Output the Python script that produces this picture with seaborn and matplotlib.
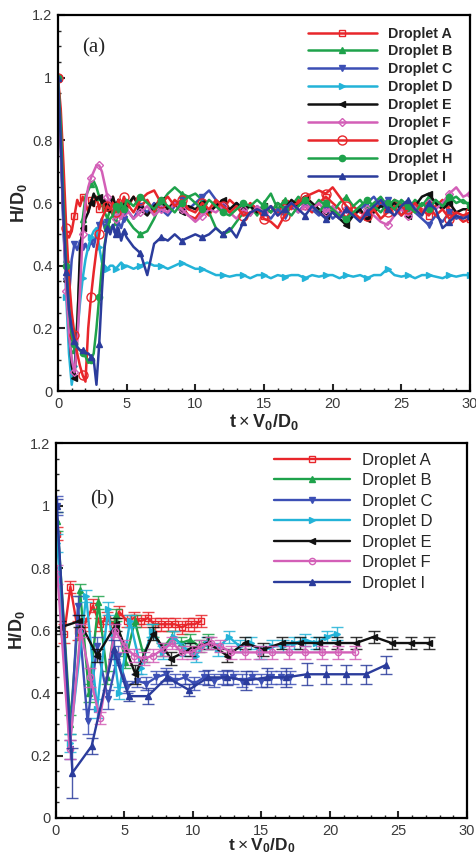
import numpy as np
import matplotlib
matplotlib.use("Agg")
import matplotlib.pyplot as plt
import seaborn as sns
from matplotlib.ticker import MultipleLocator

# ---------------- data: panel (a) ----------------
t_top = [0.0, 0.2, 0.4, 0.6, 0.8,
         1.0, 1.2, 1.4, 1.6, 1.8,
         2.0, 2.2, 2.4, 2.6, 2.8,
         3.0, 3.2, 3.4, 3.6, 3.8,
         4.0, 4.2, 4.4, 4.6, 4.8,
         5.0, 5.5, 6.0, 6.5, 7.0, 7.5, 8.0, 8.5, 9.0, 9.5,
         10.0, 10.5, 11.0, 11.5, 12.0, 12.5, 13.0, 13.5, 14.0, 14.5,
         15.0, 15.5, 16.0, 16.5, 17.0, 17.5, 18.0, 18.5, 19.0, 19.5,
         20.0, 20.5, 21.0, 21.5, 22.0, 22.5, 23.0, 23.5, 24.0, 24.5,
         25.0, 25.5, 26.0, 26.5, 27.0, 27.5, 28.0, 28.5, 29.0, 29.5,
         30.0]

top_A = [1.00, 0.82, 0.60, 0.50, 0.49,
         0.51, 0.56, 0.61, 0.59, 0.62,
         0.60, 0.57, 0.61, 0.59, 0.62,
         0.58, 0.61, 0.57, 0.60, 0.59,
         0.62, 0.58, 0.61, 0.56, 0.60,
         0.58, 0.62, 0.59, 0.61, 0.57, 0.60, 0.58, 0.61, 0.59, 0.56,
         0.55, 0.58, 0.56, 0.60, 0.58, 0.61, 0.59, 0.57, 0.60, 0.58,
         0.56, 0.59, 0.57, 0.60, 0.58, 0.61, 0.59, 0.57, 0.60, 0.62,
         0.60, 0.58, 0.55, 0.59, 0.57, 0.56, 0.58, 0.60, 0.58, 0.61,
         0.59, 0.57, 0.60, 0.58, 0.56, 0.59, 0.61, 0.58, 0.56, 0.54,
         0.55]
top_B = [1.00, 0.85, 0.62, 0.42, 0.27,
         0.17, 0.13, 0.22, 0.40, 0.55,
         0.62, 0.64, 0.66, 0.67, 0.65,
         0.62, 0.60, 0.57, 0.55, 0.58,
         0.56, 0.54, 0.57, 0.55, 0.58,
         0.55, 0.52, 0.50, 0.51, 0.55, 0.60, 0.63, 0.65, 0.63, 0.62,
         0.63, 0.61, 0.57, 0.52, 0.50, 0.51, 0.54, 0.57, 0.59, 0.56,
         0.60, 0.63, 0.58, 0.61, 0.59, 0.62, 0.60, 0.58, 0.61, 0.59,
         0.57, 0.60, 0.62, 0.59, 0.61, 0.58, 0.60, 0.62, 0.59, 0.61,
         0.60, 0.58, 0.61, 0.59, 0.62, 0.60, 0.58, 0.61, 0.62, 0.60,
         0.60]
top_C = [1.00, 0.78, 0.52, 0.35, 0.30,
         0.42, 0.47, 0.45, 0.48, 0.46,
         0.47, 0.45, 0.48, 0.46, 0.50,
         0.53, 0.55, 0.52, 0.54, 0.51,
         0.53, 0.50, 0.54, 0.52, 0.55,
         0.58, 0.55, 0.59, 0.57, 0.60, 0.58, 0.56, 0.59, 0.61, 0.58,
         0.60, 0.62, 0.64, 0.61, 0.59, 0.57, 0.60, 0.58, 0.56, 0.59,
         0.57, 0.55, 0.58, 0.56, 0.59, 0.57, 0.60, 0.58, 0.56, 0.58,
         0.55, 0.57, 0.54, 0.56, 0.58, 0.60, 0.62, 0.59, 0.61, 0.58,
         0.56, 0.59, 0.57, 0.55, 0.53, 0.56, 0.54, 0.57, 0.55, 0.56,
         0.56]
top_D = [1.00, 0.80, 0.52, 0.30, 0.12,
         0.02, 0.08, 0.18, 0.28, 0.36,
         0.42, 0.46, 0.49, 0.51, 0.52,
         0.46, 0.41, 0.40, 0.39, 0.40,
         0.40, 0.39, 0.40, 0.41, 0.40,
         0.40, 0.39, 0.40, 0.41, 0.40, 0.40, 0.39, 0.40, 0.41, 0.40,
         0.39, 0.39, 0.38, 0.37, 0.37, 0.365, 0.37, 0.37, 0.36, 0.37,
         0.37, 0.36, 0.37, 0.365, 0.37, 0.37, 0.36, 0.37, 0.365, 0.37,
         0.37, 0.36, 0.37, 0.365, 0.37, 0.36, 0.37, 0.37, 0.39, 0.37,
         0.365, 0.37, 0.36, 0.37, 0.37, 0.365, 0.36, 0.37, 0.365, 0.37,
         0.37]
top_E = [1.00, 0.80, 0.55, 0.35, 0.20,
         0.08, 0.04, 0.20, 0.45, 0.52,
         0.55, 0.57, 0.60, 0.63, 0.61,
         0.62, 0.60, 0.61, 0.58, 0.60,
         0.62, 0.59, 0.61, 0.58, 0.60,
         0.59, 0.62, 0.58, 0.56, 0.59, 0.61, 0.58, 0.60, 0.57, 0.59,
         0.58, 0.60, 0.57, 0.59, 0.61, 0.58, 0.60, 0.58, 0.59, 0.57,
         0.59, 0.57, 0.60, 0.58, 0.61, 0.59, 0.62, 0.60, 0.58, 0.56,
         0.57, 0.55, 0.53, 0.56, 0.58, 0.55, 0.57, 0.59, 0.58, 0.60,
         0.58, 0.56, 0.59, 0.62, 0.63, 0.60, 0.58, 0.60, 0.57, 0.58,
         0.58]
top_F = [1.00, 0.78, 0.52, 0.32, 0.18,
         0.10, 0.06, 0.15, 0.32, 0.50,
         0.60, 0.65, 0.68, 0.70, 0.72,
         0.72, 0.70, 0.66, 0.62, 0.60,
         0.58, 0.55, 0.57, 0.55, 0.57,
         0.58, 0.55, 0.57, 0.59, 0.56, 0.58, 0.57, 0.60, 0.58, 0.56,
         0.54, 0.56, 0.58, 0.57, 0.59, 0.57, 0.55, 0.58, 0.56, 0.59,
         0.57, 0.59, 0.56, 0.58, 0.60, 0.57, 0.59, 0.58, 0.60, 0.57,
         0.59, 0.56, 0.58, 0.57, 0.55, 0.58, 0.56, 0.54, 0.53, 0.56,
         0.58, 0.56, 0.59, 0.57, 0.60, 0.58, 0.60, 0.63, 0.65, 0.62,
         0.63]
top_G = [1.00, 0.90, 0.72, 0.52, 0.36,
         0.25, 0.18, 0.12, 0.08, 0.05,
         0.03, 0.20, 0.30, 0.38, 0.45,
         0.50, 0.55, 0.57, 0.59, 0.58,
         0.60, 0.57, 0.61, 0.59, 0.62,
         0.60, 0.57, 0.61, 0.63, 0.64, 0.60, 0.62, 0.59, 0.61, 0.58,
         0.57, 0.60, 0.58, 0.61, 0.59, 0.57, 0.59, 0.56, 0.57, 0.58,
         0.55, 0.54, 0.52, 0.56, 0.59, 0.60, 0.62, 0.63, 0.64, 0.63,
         0.65, 0.62, 0.59, 0.57, 0.55, 0.56, 0.58, 0.55, 0.57, 0.59,
         0.56, 0.58, 0.60, 0.57, 0.59, 0.56, 0.58, 0.55, 0.57, 0.56,
         0.57]
top_H = [1.00, 0.85, 0.60, 0.40, 0.26,
         0.18, 0.15, 0.14, 0.13, 0.12,
         0.11, 0.09, 0.10, 0.12, 0.20,
         0.30, 0.40, 0.47, 0.52, 0.55,
         0.56, 0.59, 0.57, 0.60, 0.58,
         0.61, 0.59, 0.62, 0.60, 0.58, 0.61, 0.59, 0.57, 0.60, 0.62,
         0.60, 0.58, 0.61, 0.59, 0.57, 0.56, 0.58, 0.60, 0.59, 0.61,
         0.59, 0.57, 0.60, 0.58, 0.56, 0.59, 0.61, 0.59, 0.57, 0.60,
         0.58, 0.56, 0.55, 0.57, 0.59, 0.61, 0.59, 0.57, 0.60, 0.58,
         0.61, 0.59, 0.57, 0.60, 0.58, 0.61, 0.59, 0.62, 0.60, 0.61,
         0.59]
top_I = [1.00, 0.80, 0.55, 0.38, 0.26,
         0.20, 0.16, 0.14, 0.13, 0.13,
         0.12, 0.12, 0.11, 0.10, 0.02,
         0.15, 0.32, 0.46, 0.52, 0.50,
         0.53, 0.50, 0.52, 0.48, 0.51,
         0.49, 0.46, 0.44, 0.37, 0.47, 0.49, 0.48, 0.50, 0.48, 0.49,
         0.50, 0.49, 0.50, 0.52, 0.50, 0.52, 0.49, 0.54, 0.57, 0.58,
         0.57, 0.59, 0.56, 0.58, 0.60, 0.58, 0.56, 0.59, 0.57, 0.55,
         0.57, 0.55, 0.58, 0.56, 0.54, 0.57, 0.59, 0.61, 0.58, 0.56,
         0.59, 0.61, 0.58, 0.56, 0.60, 0.58, 0.52, 0.54, 0.56, 0.55,
         0.56]

# ---------------- data: panel (b) ----------------
bt_A = [0.1, 0.6, 1.05, 1.6, 2.1, 2.7, 3.2, 3.7, 4.2, 4.6, 5.2, 5.7, 6.2, 6.7, 7.2, 7.7, 8.2, 8.7, 9.2, 9.6, 10.1, 10.6]
bh_A = [0.91, 0.59, 0.74, 0.60, 0.62, 0.68, 0.62, 0.64, 0.62, 0.66, 0.63, 0.64, 0.63, 0.64, 0.62, 0.62, 0.62, 0.62, 0.61, 0.62, 0.62, 0.63]
be_A = [0.02, 0.03, 0.02, 0.03, 0.02, 0.02, 0.02, 0.02, 0.02, 0.02, 0.02, 0.02, 0.02, 0.02, 0.02, 0.02, 0.02, 0.02, 0.02, 0.02, 0.02, 0.02]

bt_B = [0.1, 1.05, 1.75, 2.4, 3.1, 3.75, 4.4, 5.05, 5.75, 6.4, 7.1, 7.75, 8.45, 9.1, 9.8, 10.45, 11.1]
bh_B = [0.95, 0.30, 0.73, 0.40, 0.69, 0.45, 0.65, 0.50, 0.63, 0.52, 0.60, 0.54, 0.58, 0.56, 0.57, 0.55, 0.57]
be_B = [0.03, 0.03, 0.02, 0.03, 0.02, 0.02, 0.02, 0.02, 0.02, 0.02, 0.02, 0.02, 0.02, 0.02, 0.02, 0.02, 0.02]

bt_C = [0.05, 1.0, 1.6, 2.3, 3.0, 3.8, 4.5, 5.2, 5.9, 6.6, 7.3, 8.0, 8.7, 9.4, 10.1, 10.8, 11.5, 12.2, 12.9, 13.6, 14.3, 15.0, 15.7, 16.4, 17.1]
bh_C = [1.00, 0.22, 0.68, 0.31, 0.55, 0.38, 0.52, 0.42, 0.44, 0.43, 0.45, 0.46, 0.44, 0.45, 0.43, 0.45, 0.44, 0.45, 0.45, 0.44, 0.45, 0.44, 0.45, 0.45, 0.45]
be_C = [0.03, 0.03, 0.03, 0.04, 0.03, 0.03, 0.03, 0.02, 0.02, 0.02, 0.02, 0.02, 0.02, 0.02, 0.02, 0.02, 0.02, 0.02, 0.02, 0.02, 0.02, 0.02, 0.02, 0.02, 0.02]

bt_D = [0.1, 1.0, 2.2, 3.0, 3.8, 4.6, 5.4, 6.2, 7.0, 7.8, 8.6, 9.4, 10.2, 11.0, 11.8, 12.6, 13.4, 14.2, 15.0, 15.8, 16.6, 17.4, 18.2, 19.0, 19.8, 20.5]
bh_D = [0.88, 0.24, 0.71, 0.35, 0.67, 0.40, 0.63, 0.48, 0.60, 0.53, 0.58, 0.54, 0.52, 0.56, 0.54, 0.58, 0.55, 0.56, 0.53, 0.55, 0.55, 0.56, 0.57, 0.56, 0.58, 0.59]
be_D = [0.03, 0.03, 0.02, 0.03, 0.02, 0.02, 0.02, 0.02, 0.02, 0.02, 0.02, 0.02, 0.02, 0.02, 0.02, 0.02, 0.02, 0.02, 0.02, 0.02, 0.02, 0.02, 0.02, 0.02, 0.02, 0.02]

bt_E = [0.3, 1.7, 3.0, 4.4, 5.8, 7.1, 8.4, 9.8, 11.1, 12.5, 13.8, 15.1, 16.5, 17.8, 19.2, 20.5, 21.9, 23.2, 24.5, 25.9, 27.2]
bh_E = [0.61, 0.63, 0.52, 0.62, 0.46, 0.59, 0.51, 0.54, 0.56, 0.52, 0.56, 0.54, 0.56, 0.56, 0.56, 0.56, 0.56, 0.58, 0.56, 0.56, 0.56]
be_E = [0.02, 0.02, 0.02, 0.02, 0.03, 0.02, 0.02, 0.02, 0.02, 0.02, 0.02, 0.02, 0.02, 0.02, 0.02, 0.02, 0.02, 0.02, 0.02, 0.02, 0.02]

bt_F = [0.1, 1.0, 1.8, 2.5, 3.2, 4.3, 5.0, 5.7, 6.4, 7.1, 7.8, 8.5, 9.2, 9.9, 10.6, 11.3, 12.0, 12.8, 13.8, 14.8, 15.8, 17.0, 18.2, 19.4, 20.6, 21.8]
bh_F = [0.78, 0.22, 0.60, 0.45, 0.32, 0.60, 0.55, 0.52, 0.51, 0.52, 0.54, 0.56, 0.53, 0.53, 0.55, 0.56, 0.55, 0.53, 0.53, 0.53, 0.53, 0.53, 0.53, 0.53, 0.53, 0.53]
be_F = [0.03, 0.03, 0.02, 0.03, 0.02, 0.02, 0.02, 0.02, 0.02, 0.02, 0.02, 0.02, 0.02, 0.02, 0.02, 0.02, 0.02, 0.02, 0.02, 0.02, 0.02, 0.02, 0.02, 0.02, 0.02, 0.02]

bt_I = [0.05, 1.2, 2.6, 4.2, 5.3, 6.7, 8.1, 9.7, 11.1, 12.5, 13.9, 15.4, 16.8, 18.3, 19.7, 21.2, 22.6, 24.1]
bh_I = [1.00, 0.145, 0.23, 0.54, 0.39, 0.39, 0.45, 0.41, 0.45, 0.45, 0.44, 0.45, 0.45, 0.46, 0.46, 0.46, 0.46, 0.49]
be_I = [0.02, 0.08, 0.025, 0.03, 0.015, 0.025, 0.02, 0.02, 0.025, 0.025, 0.03, 0.03, 0.03, 0.035, 0.03, 0.03, 0.03, 0.03]

x_ticks = [0, 5, 10, 15, 20, 25, 30]
x_ticklabels = ['0', '5', '10', '15', '20', '25', '30']
y_ticks = [0, 0.2, 0.4, 0.6, 0.8, 1.0, 1.2]
y_ticklabels = ['0', '0.2', '0.4', '0.6', '0.8', '1', '1.2']

# ---------------- style ----------------
sns.set_style("ticks")
plt.rcParams['font.family'] = ['Liberation Sans', 'DejaVu Sans']
plt.rcParams['mathtext.fontset'] = 'custom'
plt.rcParams['mathtext.rm'] = 'Liberation Sans'
plt.rcParams['mathtext.bf'] = 'Liberation Sans:bold'
plt.rcParams['axes.linewidth'] = 1.6

RED = '#e8262b'
GREEN = '#1ea24b'
BLUE = '#3c4fb5'
CYAN = '#23b3d8'
BLACK = '#111111'
PINK = '#d35fb7'
DBLUE = '#2b3c9c'

fig = plt.figure(figsize=(4.77, 8.56), dpi=100)
ax1 = fig.add_axes([0.1216, 0.5432, 0.8637, 0.4393])
ax2 = fig.add_axes([0.1174, 0.0444, 0.8616, 0.4380])

# panel (a): name, values, color, marker, open marker?, marker size
top_series = [
    ('Droplet A', top_A, RED, 's', True, 4.5),
    ('Droplet B', top_B, GREEN, '^', False, 5),
    ('Droplet C', top_C, BLUE, 'v', False, 5),
    ('Droplet D', top_D, CYAN, '>', False, 5),
    ('Droplet E', top_E, BLACK, '<', False, 5),
    ('Droplet F', top_F, PINK, 'D', True, 4.5),
    ('Droplet G', top_G, RED, 'o', True, 6.5),
    ('Droplet H', top_H, GREEN, 'o', False, 4.5),
    ('Droplet I', top_I, DBLUE, '^', False, 5),
]
for name, vals, c, m, hollow, ms in top_series:
    sns.lineplot(x=t_top, y=vals, ax=ax1, color=c, lw=1.8, marker=m,
                 markersize=ms, markevery=3,
                 markerfacecolor='none' if hollow else c,
                 markeredgecolor=c, markeredgewidth=1.0,
                 label=name, sort=False, estimator=None)

# panel (b)
bottom_series = [
    ('Droplet A', bt_A, bh_A, be_A, RED, 's', True),
    ('Droplet B', bt_B, bh_B, be_B, GREEN, '^', False),
    ('Droplet C', bt_C, bh_C, be_C, BLUE, 'v', False),
    ('Droplet D', bt_D, bh_D, be_D, CYAN, '>', False),
    ('Droplet E', bt_E, bh_E, be_E, BLACK, '<', False),
    ('Droplet F', bt_F, bh_F, be_F, PINK, 'o', True),
    ('Droplet I', bt_I, bh_I, be_I, DBLUE, '^', False),
]
for name, tt, hh, ee, c, m, hollow in bottom_series:
    ax2.errorbar(tt, hh, yerr=ee, fmt='none', ecolor=c, elinewidth=1.0,
                 capsize=4.5, capthick=1.0, alpha=0.85)
    sns.lineplot(x=tt, y=hh, ax=ax2, color=c, lw=1.7, marker=m,
                 markersize=4.5,
                 markerfacecolor='none' if hollow else c,
                 markeredgecolor=c, markeredgewidth=1.0,
                 label=name, sort=False, estimator=None)

for ax in (ax1, ax2):
    ax.set_xlim(0, 30)
    ax.set_ylim(0, 1.2)
    ax.set_xticks(x_ticks)
    ax.set_xticklabels(x_ticklabels)
    ax.set_yticks(y_ticks)
    ax.set_yticklabels(y_ticklabels)
    ax.xaxis.set_minor_locator(MultipleLocator(1))
    ax.yaxis.set_minor_locator(MultipleLocator(0.05))
    ax.tick_params(which='both', direction='in', top=False, right=False,
                   labelsize=10.5, labelcolor='#3a3a3a', pad=4)
    ax.tick_params(which='major', length=5, width=1.5)
    ax.tick_params(which='minor', length=2.5, width=1.0)
    for sp in ax.spines.values():
        sp.set_linewidth(1.6)
        sp.set_color('black')
    ax.set_ylabel(r'$\mathbf{H/D_0}$', fontsize=13, labelpad=2)

ax1.set_xlabel(r'$\mathbf{t}\times\mathbf{V_0/D_0}$', fontsize=13, labelpad=1)
ax2.set_xlabel(r'$\mathbf{t}\times\mathbf{V_0/D_0}$', fontsize=12.5, labelpad=-1)

ax1.legend(loc='upper left', bbox_to_anchor=(0.607, 0.969), frameon=False,
           borderpad=0, borderaxespad=0, handlelength=4.8, handletextpad=0.8,
           labelspacing=0.27, prop={'weight': 'bold', 'size': 10.3})
ax2.legend(loc='upper left', bbox_to_anchor=(0.53, 0.974), frameon=False,
           borderpad=0, borderaxespad=0, handlelength=4.6, handletextpad=0.7,
           labelspacing=0.33, prop={'size': 12})

ax1.text(0.058, 0.912, '(a)', transform=ax1.transAxes, fontsize=15,
         family=['Liberation Serif', 'DejaVu Serif'], va='center', ha='left')
ax2.text(0.083, 0.848, '(b)', transform=ax2.transAxes, fontsize=15,
         family=['Liberation Serif', 'DejaVu Serif'], va='center', ha='left')

fig.savefig('out.png', dpi=100)
